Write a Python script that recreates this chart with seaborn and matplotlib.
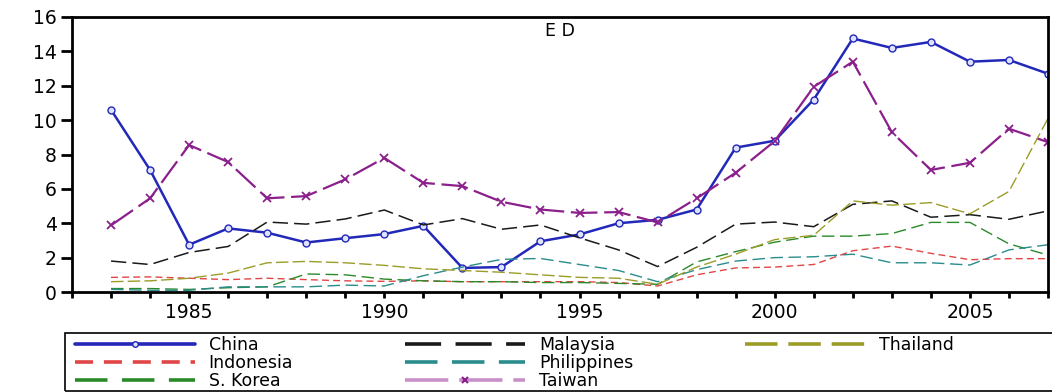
import matplotlib
matplotlib.use("Agg")
import matplotlib.pyplot as plt
from matplotlib.lines import Line2D
from matplotlib.patches import Rectangle
from matplotlib.ticker import MultipleLocator
import seaborn as sns

years = list(range(1983, 2008))

china = [10.6, 7.1, 2.75, 3.7, 3.45, 2.88, 3.13, 3.37, 3.85, 1.4, 1.45, 2.95, 3.35,
         4.0, 4.2, 4.8, 8.4, 8.8, 11.2, 14.75, 14.2, 14.55, 13.4, 13.5, 12.7]
taiwan = [3.88, 5.45, 8.55, 7.56, 5.45, 5.58, 6.55, 7.8, 6.35, 6.16, 5.25, 4.8, 4.6,
          4.65, 4.05, 5.45, 6.94, 8.78, 11.94, 13.4, 9.3, 7.1, 7.52, 9.5, 8.72]
malaysia = [1.8, 1.6, 2.3, 2.65, 4.07, 3.95, 4.25, 4.77, 3.9, 4.27, 3.65, 3.9, 3.15,
            2.45, 1.48, 2.6, 3.95, 4.07, 3.8, 5.1, 5.3, 4.35, 4.5, 4.23, 4.72]
thailand = [0.6, 0.65, 0.8, 1.1, 1.7, 1.78, 1.7, 1.55, 1.35, 1.25, 1.15, 1.0, 0.85,
            0.8, 0.45, 1.45, 2.2, 3.05, 3.3, 5.3, 5.05, 5.2, 4.55, 5.85, 10.1]
indonesia = [0.85, 0.88, 0.8, 0.72, 0.8, 0.72, 0.65, 0.62, 0.65, 0.6, 0.6, 0.6, 0.6,
             0.55, 0.35, 1.0, 1.4, 1.45, 1.6, 2.4, 2.67, 2.25, 1.88, 1.94, 1.94]
philippines = [0.15, 0.1, 0.1, 0.3, 0.3, 0.3, 0.4, 0.35, 0.95, 1.45, 1.9, 1.95, 1.6,
               1.25, 0.6, 1.3, 1.8, 2.0, 2.05, 2.2, 1.7, 1.7, 1.57, 2.45, 2.75]
skorea = [0.2, 0.2, 0.15, 0.25, 0.3, 1.05, 1.0, 0.75, 0.65, 0.6, 0.6, 0.55, 0.55,
          0.5, 0.45, 1.75, 2.35, 2.9, 3.25, 3.25, 3.4, 4.05, 4.05, 2.8, 2.15]

x_ticks = [1985, 1990, 1995, 2000, 2005]
y_ticks = [0, 2, 4, 6, 8, 10, 12, 14, 16]

sns.set_theme(style="ticks")
plt.rcParams["font.family"] = ["DejaVu Sans"]
plt.rcParams["text.color"] = "black"

fig = plt.figure(figsize=(10.52, 3.92), dpi=100)
ax = fig.add_axes([72 / 1052, 1 - 292 / 392, 976 / 1052, 275 / 392])

# style of each series: (label, values, colour, dash pattern, width, marker)
series = [
    ("China", china, "#2228b8", None, 1.8, "o"),
    ("Indonesia", indonesia, "#e04646", (5, 3), 1.0, None),
    ("S. Korea", skorea, "#2a8a2a", (9, 4), 1.0, None),
    ("Malaysia", malaysia, "#1a1a1a", (10, 4), 1.1, None),
    ("Philippines", philippines, "#2a8c8c", (9, 4), 1.0, None),
    ("Taiwan", taiwan, "#8b1f8b", (12, 3), 1.6, "x"),
    ("Thailand", thailand, "#9c9c28", (9, 3), 1.0, None),
]

for label, vals, col, dash, lw, mk in series:
    kw = dict(color=col, linewidth=lw)
    if mk == "o":
        kw.update(marker="o", markersize=5, markerfacecolor="#dfe2ff",
                  markeredgecolor=col, markeredgewidth=1.0)
    elif mk == "x":
        kw.update(marker="x", markersize=6, markeredgecolor=col,
                  markeredgewidth=1.3)
    sns.lineplot(x=years, y=vals, ax=ax, legend=False, **kw)
    line = ax.lines[-1]
    if dash is None:
        line.set_linestyle("-")
    else:
        line.set_dashes(dash)

ax.set_xlim(1982, 2007)
ax.set_ylim(0, 16)
ax.set_xticks(x_ticks)
ax.xaxis.set_minor_locator(MultipleLocator(1))
ax.set_yticks(y_ticks)
ax.set_xlabel("")
ax.set_ylabel("")
for s in ax.spines.values():
    s.set_linewidth(2)
    s.set_color("black")
ax.tick_params(axis="y", direction="out", length=8, width=2, labelsize=13.5,
               pad=3, colors="black")
ax.tick_params(axis="x", which="both", direction="out", length=4, width=2,
               labelsize=13.5, pad=4, colors="black")
ax.text(0.5, 0.98, "E D", transform=ax.transAxes, ha="center", va="top",
        fontsize=12.5, color="black")

# legend entries with heavier strokes; two empty slots keep Thailand alone
# in the third column
leg_colors = {"Taiwan": "#c890c8"}
handles, labels = [], []
for label, vals, col, dash, lw, mk in series:
    lc = leg_colors.get(label, col)
    h = Line2D([], [], color=lc, linewidth=2.6)
    if dash is not None:
        h.set_dashes(dash)
    if mk == "o":
        h.set_marker("o"); h.set_markersize(4)
        h.set_markerfacecolor("#dfe2ff"); h.set_markeredgecolor(col)
    elif mk == "x":
        h.set_marker("x"); h.set_markersize(5)
        h.set_markeredgecolor(col); h.set_markeredgewidth(1.5)
    handles.append(h)
    labels.append(label)
for _ in range(2):
    handles.append(Line2D([], [], linestyle="none"))
    labels.append(" ")

leg = fig.legend(handles, labels, ncol=3,
                 loc="upper left", bbox_to_anchor=(75 / 1052, 1 - 336 / 392),
                 frameon=False, fontsize=12.5, handlelength=6.9,
                 handletextpad=0.8, columnspacing=6.45, labelspacing=0.0,
                 borderpad=0, borderaxespad=0, numpoints=1, labelcolor="black")
fig.patches.append(Rectangle((65 / 1052, 1 - 391 / 392), 1.0, 58 / 392,
                             transform=fig.transFigure, fill=False,
                             edgecolor="black", linewidth=1.2))

fig.savefig("out.png", dpi=100)
